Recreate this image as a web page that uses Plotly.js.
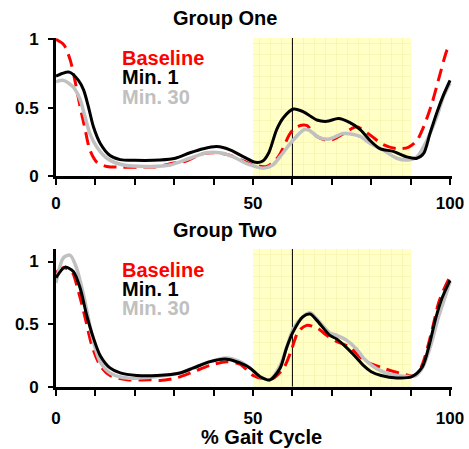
<!DOCTYPE html>
<html><head><meta charset="utf-8">
<script src="https://cdn.plot.ly/plotly-3.0.1.min.js"></script>
<style>html,body{margin:0;padding:0;background:#fff}#chart{width:469px;height:449px}</style>
</head><body><div id="chart"></div>
<script>
// ---- Data ----
const seriesNames = ['Baseline', 'Min. 1', 'Min. 30'];
const panelTitles = ['Group One', 'Group Two'];
const xTickVals = [0, 10, 20, 30, 40, 50, 60, 70, 80, 90, 100];
const xTickText = ['0', '', '', '', '', '50', '', '', '', '', '100'];
const yTickVals = [0, 0.5, 1];
const yTickText = ['0', '0.5', '1'];
const shadeStart = 50, shadeEnd = 90;
const shadeTop = [1.084, 1.18];
const markerX = 60;
const markerTop = [1.02, 1.11];

// Group One
const x1Base = [0, 2, 3.6, 4.8, 6.1, 7.4, 8.6, 10.4, 12.9, 17, 22, 26, 29, 33, 37.4, 40.8, 44.3, 47.6, 50, 53.5, 56.4, 59.4, 61.1, 63.6, 66.2, 69.5, 73.8, 76.3, 79.7, 83, 86.5, 89.4, 91.6, 93.3, 95.4, 97.5, 99.2, 100];
const y1Base = [1.0, 0.96, 0.85, 0.70, 0.51, 0.34, 0.19, 0.10, 0.07, 0.065, 0.065, 0.07, 0.09, 0.11, 0.165, 0.17, 0.15, 0.11, 0.08, 0.07, 0.14, 0.31, 0.36, 0.37, 0.29, 0.26, 0.325, 0.36, 0.30, 0.23, 0.20, 0.21, 0.26, 0.36, 0.53, 0.75, 0.92, 0.96];
const x1Min1 = [0, 1.5, 3.4, 5.7, 7, 8.2, 9.5, 11.2, 13.7, 16.3, 20, 26.4, 30.3, 34, 37.4, 40.8, 44.3, 47.6, 50.6, 52.5, 54, 56, 57.8, 60.3, 62.8, 66.2, 68.7, 71.7, 74.6, 77.2, 79.7, 82.2, 85.6, 89, 91.6, 93.3, 94.9, 96.6, 98.3, 100];
const y1Min1 = [0.73, 0.75, 0.76, 0.70, 0.63, 0.51, 0.36, 0.24, 0.15, 0.12, 0.115, 0.117, 0.13, 0.17, 0.20, 0.215, 0.19, 0.14, 0.10, 0.11, 0.17, 0.34, 0.43, 0.49, 0.47, 0.41, 0.40, 0.42, 0.39, 0.34, 0.26, 0.20, 0.18, 0.14, 0.13, 0.165, 0.31, 0.46, 0.59, 0.70];
const x1Min30 = [0, 1.9, 4.4, 6.1, 7.4, 8.6, 10.4, 12.9, 17.1, 23.9, 29, 34, 38.2, 41.6, 45, 48.4, 50.5, 52.5, 55, 57.6, 60.1, 63, 64.2, 66.8, 69.3, 72.7, 74.4, 77.2, 79.7, 83, 86.5, 89, 91.6, 94.1, 96.6, 98.3, 100];
const y1Min30 = [0.69, 0.70, 0.65, 0.56, 0.43, 0.31, 0.21, 0.13, 0.08, 0.07, 0.08, 0.13, 0.17, 0.17, 0.14, 0.09, 0.07, 0.056, 0.08, 0.17, 0.26, 0.34, 0.335, 0.28, 0.27, 0.31, 0.31, 0.29, 0.24, 0.19, 0.13, 0.117, 0.14, 0.26, 0.43, 0.58, 0.68];

// Group Two
const x2Base = [0, 1.9, 4, 5.7, 7.4, 9.1, 11.2, 13.7, 18, 24, 26.4, 30.5, 34.9, 39.1, 43.3, 46.7, 50, 52.5, 55, 57.8, 59.6, 61.5, 63.6, 66.2, 68.7, 71.3, 74.4, 78.2, 82.9, 87.1, 91.3, 93, 95.1, 97.2, 98.9, 100];
const y2Base = [0.91, 0.95, 0.92, 0.76, 0.55, 0.33, 0.17, 0.09, 0.055, 0.055, 0.05, 0.07, 0.12, 0.17, 0.20, 0.18, 0.09, 0.065, 0.065, 0.15, 0.28, 0.44, 0.49, 0.47, 0.41, 0.36, 0.32, 0.21, 0.15, 0.11, 0.09, 0.18, 0.41, 0.68, 0.81, 0.88];
const x2Min1 = [0, 2.3, 4.4, 6.1, 7.8, 9.5, 11.2, 13.7, 16.3, 20.5, 25.6, 31.5, 34.9, 39.1, 43.3, 46.7, 49.2, 51.8, 54.3, 56.9, 58.5, 60.2, 62.7, 64.5, 66.2, 69.5, 71.3, 73.8, 76.3, 78, 80, 82.5, 86.5, 90.3, 93, 94.7, 96.4, 98, 100];
const y2Min1 = [0.87, 0.955, 0.92, 0.79, 0.57, 0.39, 0.25, 0.15, 0.11, 0.09, 0.09, 0.11, 0.15, 0.20, 0.22, 0.19, 0.15, 0.08, 0.055, 0.15, 0.31, 0.44, 0.56, 0.58, 0.53, 0.41, 0.38, 0.31, 0.23, 0.17, 0.12, 0.09, 0.07, 0.08, 0.16, 0.33, 0.55, 0.71, 0.85];
const x2Min30 = [0, 1.9, 3.6, 5.2, 7, 8.2, 9.5, 11.2, 13.7, 18, 25, 31.5, 34.9, 39.1, 43.3, 46.7, 49.2, 51.8, 54.3, 56.9, 58.5, 60.2, 62.7, 64.5, 66.2, 69.5, 71.3, 73.8, 76.3, 78, 82.2, 86.5, 91.3, 93, 95.1, 97.2, 98.9, 100];
const y2Min30 = [0.83, 1.03, 1.05, 0.95, 0.73, 0.55, 0.36, 0.20, 0.11, 0.07, 0.08, 0.11, 0.15, 0.20, 0.23, 0.20, 0.15, 0.08, 0.055, 0.17, 0.31, 0.46, 0.56, 0.59, 0.54, 0.43, 0.41, 0.37, 0.30, 0.23, 0.13, 0.09, 0.09, 0.15, 0.33, 0.57, 0.73, 0.84];

// ---- Styles ----
const FONT = 'Liberation Sans, Arial, sans-serif';
const styles = [
  {color: '#FF0000', width: 3, dash: '13px,7px'},
  {color: '#000000', width: 3, dash: 'solid'},
  {color: '#C0C0C0', width: 3.5, dash: 'solid'}
];
const panels = [
  {xs: [x1Base, x1Min1, x1Min30], ys: [y1Base, y1Min1, y1Min30], xa: 'x', ya: 'y'},
  {xs: [x2Base, x2Min1, x2Min30], ys: [y2Base, y2Min1, y2Min30], xa: 'x2', ya: 'y2'}
];

const traces = [];
panels.forEach((p, pi) => {
  traces.push({
    type: 'bar', x: [(shadeStart + shadeEnd) / 2], y: [shadeTop[pi]], width: [shadeEnd - shadeStart],
    xaxis: p.xa, yaxis: p.ya, cliponaxis: false, showlegend: false, hoverinfo: 'skip',
    marker: {color: '#FFFFC6', line: {width: 0},
      pattern: {shape: '+', fgcolor: '#F3EFA2', bgcolor: '#FFFFC6', size: 11, solidity: 0.09}}
  });
  traces.push({
    type: 'scatter', mode: 'lines', x: [markerX, markerX], y: [0, markerTop[pi]],
    xaxis: p.xa, yaxis: p.ya, cliponaxis: false, showlegend: false,
    line: {color: '#000', width: 1}
  });
  [0, 2, 1].forEach(si => {
    traces.push({
      type: 'scatter', mode: 'lines', name: seriesNames[si], x: p.xs[si], y: p.ys[si],
      xaxis: p.xa, yaxis: p.ya, cliponaxis: false, showlegend: false,
      line: {color: styles[si].color, width: styles[si].width, dash: styles[si].dash, shape: 'spline', smoothing: 0.8}
    });
  });
});

function xAxis(anchor, standoff) {
  return {anchor: anchor, domain: [56/469, 452/469], range: [0, 100.5], showgrid: false, zeroline: false,
    showline: true, linewidth: 3, linecolor: '#000', ticks: 'outside', ticklen: 6, tickwidth: 2, tickcolor: '#000',
    tickvals: xTickVals, ticktext: xTickText, ticklabelstandoff: standoff,
    tickfont: {family: FONT, size: 17, color: '#000', weight: 'bold'}};
}
function yAxis(anchor, dom, top) {
  return {anchor: anchor, domain: dom, range: [0, top], showgrid: false, zeroline: false,
    showline: true, linewidth: 3, linecolor: '#000', ticks: 'outside', ticklen: 5, tickwidth: 2, tickcolor: '#000',
    tickvals: yTickVals, ticktext: yTickText, ticklabelstandoff: 6,
    tickfont: {family: FONT, size: 17, color: '#000', weight: 'bold'}};
}

const annFont = (c) => ({family: FONT, size: 20, color: c, weight: 'bold'});
const annotations = [];
const titleY = [18, 230];
const legY = [[58, 77, 97], [270, 289, 308]];
panelTitles.forEach((t, i) => {
  annotations.push({text: t, xref: 'paper', yref: 'paper', x: 225/469, y: 1 - titleY[i]/449,
    xanchor: 'center', yanchor: 'middle', showarrow: false, font: annFont('#000')});
  seriesNames.forEach((n, si) => {
    annotations.push({text: n, xref: 'paper', yref: 'paper', x: 121/469, y: 1 - legY[i][si]/449,
      xanchor: 'left', yanchor: 'middle', showarrow: false, borderpad: 0, font: annFont(styles[si].color)});
  });
});
annotations.push({text: '% Gait Cycle', xref: 'paper', yref: 'paper', x: 261/469, y: 1 - 437/449,
  xanchor: 'center', yanchor: 'middle', showarrow: false, font: annFont('#000')});

const layout = {
  width: 469, height: 449, margin: {l: 0, r: 0, t: 0, b: 0},
  paper_bgcolor: '#fff', plot_bgcolor: 'rgba(0,0,0,0)', showlegend: false,
  xaxis: xAxis('y', 4), yaxis: yAxis('x', [(449-176)/449, (449-38)/449], 1.01),
  xaxis2: xAxis('y2', 8), yaxis2: yAxis('x2', [(449-386.7)/449, (449-249)/449], 1.10),
  annotations: annotations, bargap: 0
};
Plotly.newPlot('chart', traces, layout, {displayModeBar: false, staticPlot: true});
</script></body></html>
